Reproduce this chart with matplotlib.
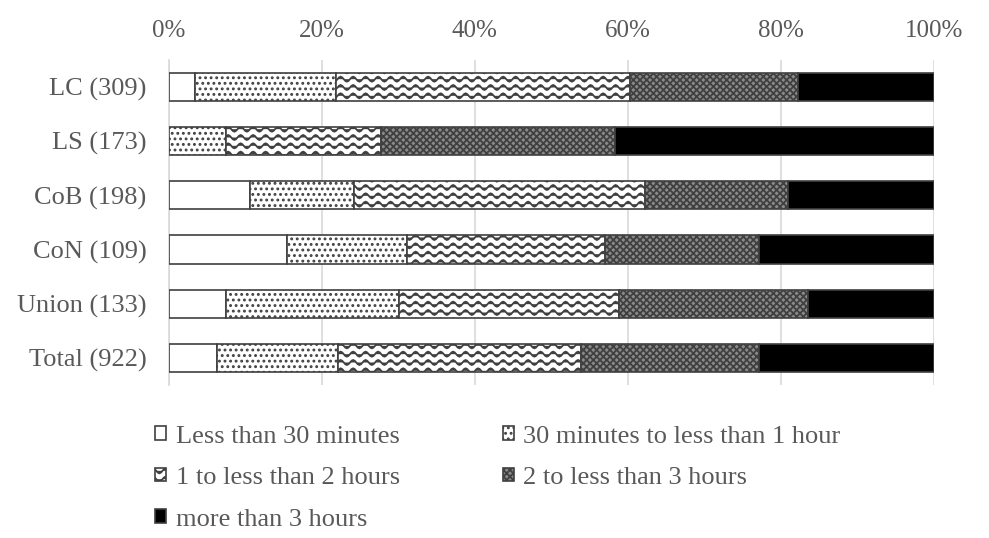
import warnings
import numpy as np
import matplotlib
matplotlib.use("Agg")
from matplotlib import pyplot as plt
from matplotlib import hatch as mhatch
from matplotlib.path import Path

warnings.filterwarnings("ignore")

# 数据（百分比，由图中读取）
groups = ["LC (309)", "LS (173)", "CoB (198)", "CoN (109)", "Union (133)", "Total (922)"]
labels = [
    "Less than 30 minutes",
    "30 minutes to less than 1 hour",
    "1 to less than 2 hours",
    "2 to less than 3 hours",
    "more than 3 hours",
]
lt_30min = [3.5, 0.0, 10.6, 15.5, 7.5, 6.3]
min30_1h = [18.4, 7.5, 13.6, 15.7, 22.6, 15.8]
h1_2 = [38.4, 20.2, 38.0, 25.8, 28.7, 31.8]
h2_3 = [22.0, 30.7, 18.7, 20.2, 24.8, 23.2]
gt_3h = [17.7, 41.6, 19.1, 22.8, 16.4, 22.9]
x_ticks = [0, 20, 40, 60, 80, 100]


# 自定义波浪线填充
class Waves(mhatch.HatchPatternBase):
    periods = 8
    pts = 8

    def __init__(self, hatch, density):
        self.num_rows = hatch.count("~") * density
        self.row_pts = self.periods * self.pts + 1
        self.num_vertices = self.num_rows * self.row_pts

    def set_vertices_and_codes(self, vertices, codes):
        xs = np.linspace(0, 1, self.row_pts)
        amp = 0.3 / self.num_rows
        for i in range(self.num_rows):
            y0 = (i + 0.5) / self.num_rows
            seg = slice(i * self.row_pts, (i + 1) * self.row_pts)
            vertices[seg, 0] = xs
            vertices[seg, 1] = y0 + amp * np.sin(2 * np.pi * self.periods * xs)
            codes[seg] = Path.LINETO
            codes[i * self.row_pts] = Path.MOVETO


mhatch._hatch_types.append(Waves)

plt.rcParams["font.family"] = ["Liberation Serif", "DejaVu Serif"]
plt.rcParams["hatch.linewidth"] = 1.3
plt.rcParams["hatch.color"] = "black"
grey = "#595959"

series = [lt_30min, min30_1h, h1_2, h2_3, gt_3h]
faces = ["white", "white", "white", "#8a8a8a", "black"]
hatches = [None, "...", "~~", "xxxxx", None]

fig = plt.figure(figsize=(9.89, 5.38), dpi=100)
ax = fig.add_axes([0.1706, 0.2844, 0.7735, 0.6041])

y = np.arange(len(groups))
left = np.zeros(len(groups))
bars = []
for vals, fc, hp, lab in zip(series, faces, hatches, labels):
    b = ax.barh(y, vals, left=left, height=0.52, color=fc, hatch=hp,
                edgecolor="#404040", linewidth=1.2, label=lab, zorder=3)
    bars.append(b)
    left += np.array(vals)

ax.set_xlim(0, 100)
ax.set_ylim(len(groups) - 0.5, -0.5)
ax.set_yticks(y)
ax.set_yticklabels(groups)
ax.set_xticks(x_ticks)
ax.set_xticklabels([f"{t}%" for t in x_ticks])
ax.xaxis.tick_top()
ax.tick_params(axis="x", length=0, pad=13, labelsize=18, labelcolor=grey)
ax.tick_params(axis="y", length=0, pad=16, labelsize=19, labelcolor=grey)
ax.grid(axis="x", color="#d9d9d9", linewidth=1.2, zorder=0)
for s in ["top", "right", "bottom"]:
    ax.spines[s].set_visible(False)
ax.spines["left"].set_color("#d9d9d9")
ax.spines["left"].set_linewidth(1.2)

order = [0, 2, 4, 1, 3]
leg = fig.legend([bars[i] for i in order], [labels[i] for i in order],
                 ncol=2, loc="upper left", bbox_to_anchor=(0.157, 0.209),
                 frameon=False, fontsize=19, handlelength=0.42, handleheight=0.42,
                 handletextpad=0.35, columnspacing=3.9, labelspacing=0.74,
                 borderpad=0, borderaxespad=0)
for t in leg.get_texts():
    t.set_color(grey)

fig.savefig("out.png", dpi=100)
